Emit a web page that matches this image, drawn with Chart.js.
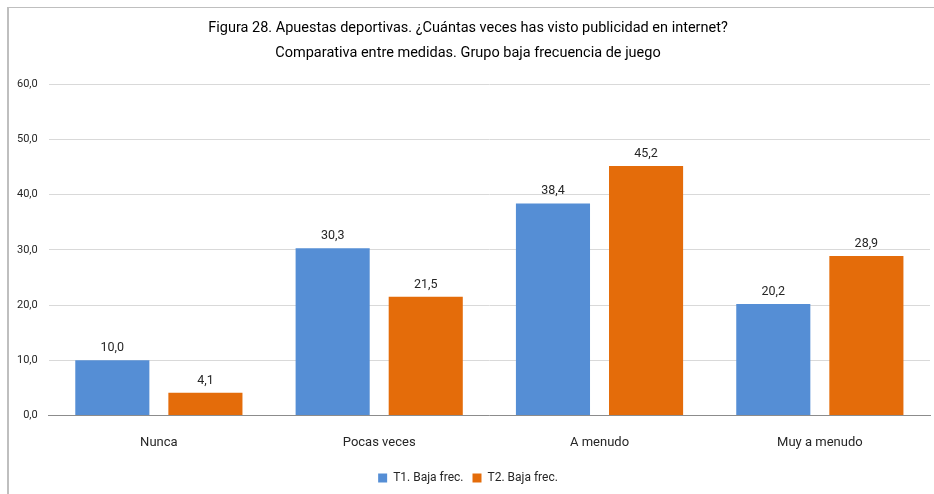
<!DOCTYPE html>
<html>
<head>
<meta charset="utf-8">
<script src="https://cdn.jsdelivr.net/npm/chart.js@4.4.0/dist/chart.umd.min.js"></script>
<style>
  html, body { margin: 0; padding: 0; background: #fff; }
  #wrap { position: relative; width: 934px; height: 494px; }
  #frame { position: absolute; left: 7px; top: 7px; right: 0; bottom: 0;
           border-top: 1px solid #bfbfbf; border-left: 2px solid #bfbfbf; pointer-events: none; }
  canvas { position: absolute; left: 0; top: 0; }
</style>
</head>
<body>
<div id="wrap">
  <canvas id="chart" width="934" height="494"></canvas>
  <div id="frame"></div>
</div>
<script>
const categories = ['Nunca', 'Pocas veces', 'A menudo', 'Muy a menudo'];
const seriesNames = ['T1. Baja frec.', 'T2. Baja frec.'];
const t1Values = [10.0, 30.3, 38.4, 20.2];
const t2Values = [4.1, 21.5, 45.2, 28.9];
const yTicks = [0, 10, 20, 30, 40, 50, 60];

const fontFamily = '"Liberation Sans Narrow", Roboto, sans-serif';
const fmt = v => v.toFixed(1).replace('.', ',');

// draws the value above each bar
const barLabels = {
  id: 'barLabels',
  afterDatasetsDraw(chart) {
    const ctx = chart.ctx;
    ctx.save();
    ctx.font = '12.5px ' + fontFamily;
    ctx.fillStyle = '#262626';
    ctx.textAlign = 'center';
    ctx.textBaseline = 'bottom';
    chart.data.datasets.forEach((ds, i) => {
      chart.getDatasetMeta(i).data.forEach((bar, j) => {
        ctx.fillText(fmt(ds.data[j]), bar.x, bar.y - 6);
      });
    });
    ctx.restore();
  }
};

new Chart(document.getElementById('chart').getContext('2d'), {
  type: 'bar',
  data: {
    labels: categories,
    datasets: [
      { label: seriesNames[0], data: t1Values, backgroundColor: '#558ed5' },
      { label: seriesNames[1], data: t2Values, backgroundColor: '#e46c0a' }
    ]
  },
  options: {
    responsive: false,
    animation: false,
    categoryPercentage: 0.845,
    barPercentage: 0.796,
    layout: { padding: { left: 6, right: 4, top: 12, bottom: 0 } },
    plugins: {
      title: {
        display: true,
        text: ['Figura 28. Apuestas deportivas. ¿Cuántas veces has visto publicidad en internet?',
               'Comparativa entre medidas. Grupo baja frecuencia de juego'],
        color: '#000',
        font: { family: fontFamily, size: 14.5, weight: 'normal', lineHeight: 1.7 },
        padding: { top: 4, bottom: 19 }
      },
      legend: {
        position: 'bottom',
        labels: {
          color: '#262626',
          font: { family: fontFamily, size: 12 },
          boxWidth: 9, boxHeight: 9, padding: 9
        }
      },
      tooltip: { enabled: false }
    },
    scales: {
      x: {
        grid: { display: false },
        border: { color: '#8c8c8c' },
        ticks: { color: '#262626', font: { family: fontFamily, size: 13 }, padding: 12 }
      },
      y: {
        min: 0, max: 60,
        afterBuildTicks: axis => { axis.ticks = yTicks.map(v => ({ value: v })); },
        grid: { color: '#d9d9d9', drawTicks: false },
        border: { display: false },
        ticks: { color: '#262626', font: { family: fontFamily, size: 11 }, padding: 11,
                 callback: v => fmt(v) }
      }
    }
  },
  plugins: [barLabels]
});
</script>
</body>
</html>
